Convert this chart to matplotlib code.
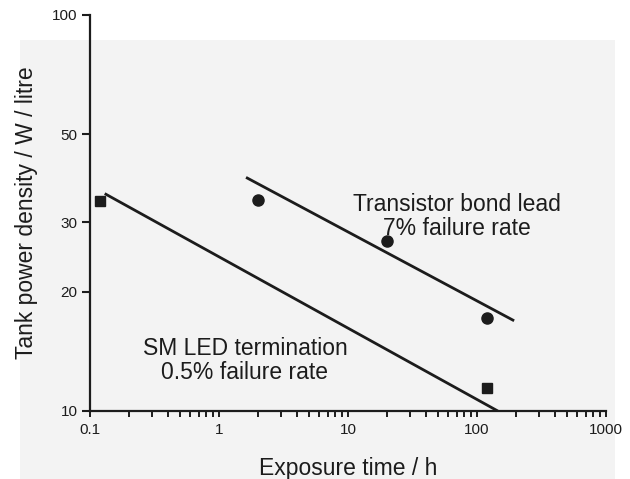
import matplotlib
matplotlib.use("Agg")
import matplotlib.pyplot as plt
from matplotlib.patches import Rectangle

plt.rcParams['font.family'] = ['Liberation Sans', 'DejaVu Sans']

# Measured points
led_time = [0.12, 120]
led_power = [34.0, 11.4]
bond_time = [2, 20, 120]
bond_power = [34.2, 26.9, 17.2]

# Fitted trend lines (end points)
led_fit_time = [0.13, 145]
led_fit_power = [35.4, 10.0]
bond_fit_time = [1.62, 194]
bond_fit_power = [38.9, 16.9]

x_ticks = [0.1, 1, 10, 100, 1000]
x_ticklabels = ['0.1', '1', '10', '100', '1000']
y_ticks = [10, 20, 30, 50, 100]
y_ticklabels = ['10', '20', '30', '50', '100']

ink = '#1c1c1c'

fig = plt.figure(figsize=(6.3, 4.79), dpi=100)
fig.patch.set_facecolor('white')
# faint grey page tone
fig.patches.append(Rectangle((20 / 630, 0), 595 / 630, 439 / 479,
                             transform=fig.transFigure, facecolor='#f3f3f3',
                             edgecolor='none', zorder=-10))

ax = fig.add_axes([90 / 630, (479 - 411) / 479, (606 - 90) / 630, (411 - 15) / 479])
ax.set_facecolor('none')
ax.set_xscale('log')
ax.set_yscale('log')
ax.set_xlim(0.1, 1000)
ax.set_ylim(10, 100)

ax.plot(led_fit_time, led_fit_power, color=ink, lw=2.0, solid_capstyle='butt')
ax.plot(bond_fit_time, bond_fit_power, color=ink, lw=2.0, solid_capstyle='butt')
ax.plot(led_time, led_power, 's', color=ink, ms=7, clip_on=False)
ax.plot(bond_time, bond_power, 'o', color=ink, ms=8, clip_on=False)

ax.text(70, 31.0, 'Transistor bond lead\n7% failure rate', ha='center', va='center',
        fontsize=16.5, color=ink, linespacing=1.05)
ax.text(1.59, 13.4, 'SM LED termination\n0.5% failure rate', ha='center', va='center',
        fontsize=16.5, color=ink, linespacing=1.05)

for s in ['top', 'right']:
    ax.spines[s].set_visible(False)
for s in ['left', 'bottom']:
    ax.spines[s].set_linewidth(1.6)
    ax.spines[s].set_color(ink)

ax.set_yticks(y_ticks)
ax.set_yticklabels(y_ticklabels)
ax.yaxis.set_minor_locator(matplotlib.ticker.NullLocator())
ax.set_xticks(x_ticks)
ax.set_xticklabels(x_ticklabels)
ax.xaxis.set_minor_locator(matplotlib.ticker.LogLocator(base=10, subs=range(2, 10)))
ax.xaxis.set_minor_formatter(matplotlib.ticker.NullFormatter())

ax.tick_params(axis='y', which='major', direction='out', length=6, width=1.5,
               labelsize=11, colors=ink, pad=3)
ax.tick_params(axis='x', which='both', direction='out', length=4, width=1.4,
               labelsize=11, colors=ink, pad=5)

ax.set_xlabel('Exposure time / h', fontsize=16.5, color=ink, labelpad=14)
ax.set_ylabel('Tank power density / W / litre', fontsize=16.5, color=ink, labelpad=10)

fig.savefig('out.png', dpi=100)
